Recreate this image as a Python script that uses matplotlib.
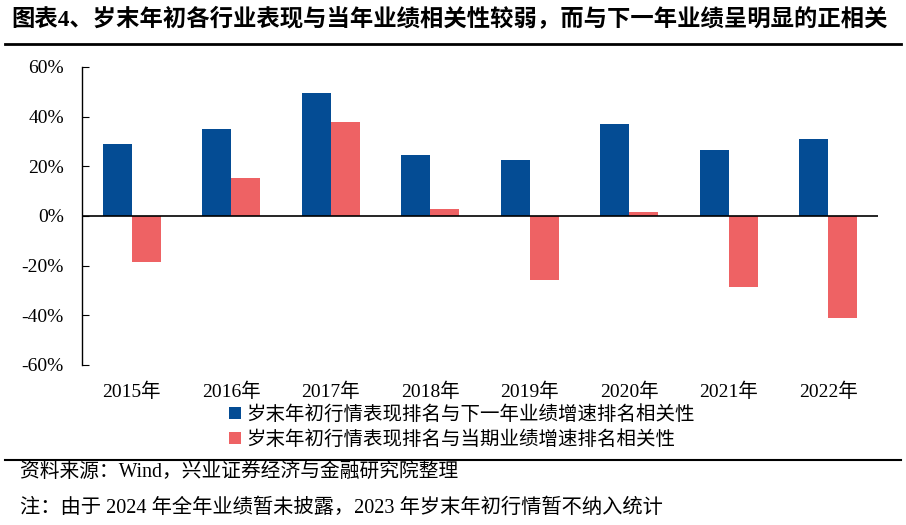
import matplotlib.pyplot as plt
import numpy as np
from matplotlib.lines import Line2D

plt.rcParams['font.family'] = ['Liberation Serif', 'Noto Sans CJK SC', 'DejaVu Sans']

years = ['2015年', '2016年', '2017年', '2018年', '2019年', '2020年', '2021年', '2022年']
next_year = [28.9, 35.0, 49.5, 24.6, 22.5, 37.0, 26.6, 31.0]
same_year = [-18.4, 15.4, 37.9, 2.8, -25.8, 1.6, -28.5, -41.0]
label_next = '岁末年初行情表现排名与下一年业绩增速排名相关性'
label_same = '岁末年初行情表现排名与当期业绩增速排名相关性'
title = '图表4、岁末年初各行业表现与当年业绩相关性较弱，而与下一年业绩呈明显的正相关'
source = '资料来源：Wind，兴业证券经济与金融研究院整理'
note = '注：由于 2024 年全年业绩暂未披露，2023 年岁末年初行情暂不纳入统计'

blue = '#044C94'
red = '#EE6264'

fig = plt.figure(figsize=(9.06, 5.25), dpi=100)
ax = fig.add_axes([0.0905, 0.3048, 0.8785, 0.5676])

x = np.arange(len(years))
w = 0.29
ax.bar(x - w / 2, next_year, w, color=blue, label=label_next)
ax.bar(x + w / 2, same_year, w, color=red, label=label_same)
ax.axhline(0, color='black', linewidth=1.2)

ax.set_xlim(-0.5, len(years) - 0.5)
ax.set_ylim(-60, 60)
ax.set_yticks(range(-60, 61, 20))
ax.set_yticklabels([f'{v}%' for v in range(-60, 61, 20)], fontsize=14)
ax.set_xticks(x)
ax.set_xticklabels(years, fontsize=14)
ax.tick_params(axis='x', length=0, pad=13)
ax.tick_params(axis='y', direction='in', length=5, pad=13)
for s in ['top', 'right', 'bottom']:
    ax.spines[s].set_visible(False)
ax.spines['left'].set_linewidth(1.0)

fig.legend(loc='upper center', bbox_to_anchor=(0.51, 0.247), frameon=False,
           fontsize=14, handlelength=0.6, handleheight=0.6, handletextpad=0.3,
           labelspacing=0.3, borderpad=0)

fig.text(0.012, 0.962, title, fontsize=16.8, fontweight='bold', va='center', ha='left')
fig.add_artist(Line2D([0.005, 0.995], [0.916, 0.916], color='black', linewidth=2))
fig.add_artist(Line2D([0.005, 0.995], [0.124, 0.124], color='black', linewidth=1.5))
fig.text(0.022, 0.1, source, fontsize=14.2, va='center', ha='left')
fig.text(0.022, 0.032, note, fontsize=14.6, va='center', ha='left')

fig.savefig('out.png', dpi=100)
